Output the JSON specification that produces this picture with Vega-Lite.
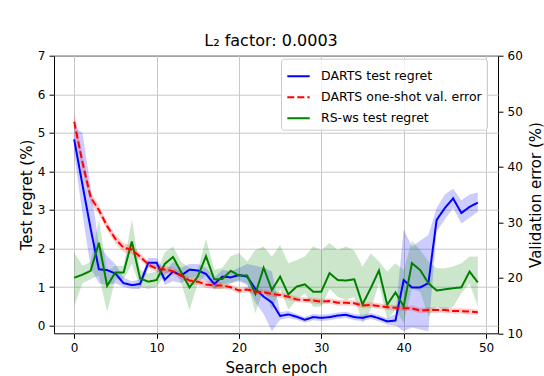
{
"$schema":"https://vega.github.io/schema/vega-lite/v6.json",
"width":444,"height":277.6,
"autosize":{"type":"none"},
"padding":{"left":54,"top":55.7,"right":46,"bottom":42.7},
"title":{"text":"L₂ factor: 0.0003","fontSize":16,"fontWeight":"normal","font":"DejaVu Sans","color":"black","baseline":"alphabetic","offset":9,"dy":21,"dx":-5},
"data":{"values":[
{"e":0,"s":"DARTS test regret","m":4.83,"lo":4.45,"hi":5.15},
{"e":1,"s":"DARTS test regret","m":3.66,"lo":2.9,"hi":5.0},
{"e":2,"s":"DARTS test regret","m":2.51,"lo":1.5,"hi":3.6},
{"e":3,"s":"DARTS test regret","m":1.46,"lo":1.1,"hi":2.1},
{"e":4,"s":"DARTS test regret","m":1.44,"lo":1.05,"hi":1.8},
{"e":5,"s":"DARTS test regret","m":1.35,"lo":1.1,"hi":1.6},
{"e":6,"s":"DARTS test regret","m":1.10,"lo":1.0,"hi":1.25},
{"e":7,"s":"DARTS test regret","m":1.05,"lo":0.95,"hi":1.15},
{"e":8,"s":"DARTS test regret","m":1.08,"lo":0.95,"hi":1.2},
{"e":9,"s":"DARTS test regret","m":1.63,"lo":1.5,"hi":1.75},
{"e":10,"s":"DARTS test regret","m":1.63,"lo":1.5,"hi":1.75},
{"e":11,"s":"DARTS test regret","m":1.19,"lo":1.05,"hi":1.4},
{"e":12,"s":"DARTS test regret","m":1.40,"lo":1.15,"hi":1.65},
{"e":13,"s":"DARTS test regret","m":1.30,"lo":1.1,"hi":1.5},
{"e":14,"s":"DARTS test regret","m":1.45,"lo":1.25,"hi":1.6},
{"e":15,"s":"DARTS test regret","m":1.43,"lo":1.25,"hi":1.6},
{"e":16,"s":"DARTS test regret","m":1.34,"lo":1.15,"hi":1.5},
{"e":17,"s":"DARTS test regret","m":1.08,"lo":0.95,"hi":1.25},
{"e":18,"s":"DARTS test regret","m":1.27,"lo":1.1,"hi":1.45},
{"e":19,"s":"DARTS test regret","m":1.25,"lo":1.1,"hi":1.4},
{"e":20,"s":"DARTS test regret","m":1.31,"lo":1.15,"hi":1.5},
{"e":21,"s":"DARTS test regret","m":1.27,"lo":1.05,"hi":1.6},
{"e":22,"s":"DARTS test regret","m":0.95,"lo":0.6,"hi":1.55},
{"e":23,"s":"DARTS test regret","m":0.75,"lo":0.3,"hi":1.5},
{"e":24,"s":"DARTS test regret","m":0.60,"lo":-0.15,"hi":1.4},
{"e":25,"s":"DARTS test regret","m":0.25,"lo":0.15,"hi":0.35},
{"e":26,"s":"DARTS test regret","m":0.29,"lo":0.2,"hi":0.38},
{"e":27,"s":"DARTS test regret","m":0.23,"lo":0.15,"hi":0.3},
{"e":28,"s":"DARTS test regret","m":0.15,"lo":0.08,"hi":0.22},
{"e":29,"s":"DARTS test regret","m":0.22,"lo":0.14,"hi":0.3},
{"e":30,"s":"DARTS test regret","m":0.20,"lo":0.12,"hi":0.28},
{"e":31,"s":"DARTS test regret","m":0.22,"lo":0.14,"hi":0.3},
{"e":32,"s":"DARTS test regret","m":0.26,"lo":0.18,"hi":0.34},
{"e":33,"s":"DARTS test regret","m":0.28,"lo":0.2,"hi":0.36},
{"e":34,"s":"DARTS test regret","m":0.22,"lo":0.14,"hi":0.3},
{"e":35,"s":"DARTS test regret","m":0.20,"lo":0.12,"hi":0.28},
{"e":36,"s":"DARTS test regret","m":0.25,"lo":0.17,"hi":0.33},
{"e":37,"s":"DARTS test regret","m":0.19,"lo":0.11,"hi":0.27},
{"e":38,"s":"DARTS test regret","m":0.11,"lo":0.03,"hi":0.19},
{"e":39,"s":"DARTS test regret","m":0.13,"lo":0.0,"hi":0.3},
{"e":40,"s":"DARTS test regret","m":1.18,"lo":-0.15,"hi":2.5},
{"e":41,"s":"DARTS test regret","m":0.99,"lo":-0.05,"hi":2.05},
{"e":42,"s":"DARTS test regret","m":0.99,"lo":-0.1,"hi":2.2},
{"e":43,"s":"DARTS test regret","m":1.10,"lo":-0.15,"hi":2.35},
{"e":44,"s":"DARTS test regret","m":2.74,"lo":2.45,"hi":3.05},
{"e":45,"s":"DARTS test regret","m":3.05,"lo":2.75,"hi":3.4},
{"e":46,"s":"DARTS test regret","m":3.30,"lo":3.05,"hi":3.55},
{"e":47,"s":"DARTS test regret","m":2.92,"lo":2.65,"hi":3.25},
{"e":48,"s":"DARTS test regret","m":3.08,"lo":2.8,"hi":3.4},
{"e":49,"s":"DARTS test regret","m":3.19,"lo":2.95,"hi":3.45},
{"e":0,"s":"RS-ws test regret","m":1.24,"lo":0.5,"hi":1.9},
{"e":1,"s":"RS-ws test regret","m":1.32,"lo":1.1,"hi":1.55},
{"e":2,"s":"RS-ws test regret","m":1.42,"lo":1.2,"hi":1.65},
{"e":3,"s":"RS-ws test regret","m":2.15,"lo":1.3,"hi":2.75},
{"e":4,"s":"RS-ws test regret","m":1.03,"lo":0.35,"hi":1.4},
{"e":5,"s":"RS-ws test regret","m":1.38,"lo":1.2,"hi":1.55},
{"e":6,"s":"RS-ws test regret","m":1.38,"lo":1.2,"hi":1.55},
{"e":7,"s":"RS-ws test regret","m":2.18,"lo":1.6,"hi":2.75},
{"e":8,"s":"RS-ws test regret","m":1.22,"lo":1.0,"hi":1.45},
{"e":9,"s":"RS-ws test regret","m":1.14,"lo":0.95,"hi":1.35},
{"e":10,"s":"RS-ws test regret","m":1.18,"lo":1.0,"hi":1.4},
{"e":11,"s":"RS-ws test regret","m":1.60,"lo":1.3,"hi":1.9},
{"e":12,"s":"RS-ws test regret","m":1.78,"lo":1.5,"hi":2.05},
{"e":13,"s":"RS-ws test regret","m":1.38,"lo":1.1,"hi":1.65},
{"e":14,"s":"RS-ws test regret","m":0.99,"lo":0.4,"hi":1.5},
{"e":15,"s":"RS-ws test regret","m":1.27,"lo":1.1,"hi":1.45},
{"e":16,"s":"RS-ws test regret","m":1.80,"lo":1.3,"hi":2.25},
{"e":17,"s":"RS-ws test regret","m":1.20,"lo":0.95,"hi":1.45},
{"e":18,"s":"RS-ws test regret","m":1.21,"lo":0.95,"hi":1.5},
{"e":19,"s":"RS-ws test regret","m":1.42,"lo":1.1,"hi":1.8},
{"e":20,"s":"RS-ws test regret","m":1.30,"lo":1.18,"hi":1.88},
{"e":21,"s":"RS-ws test regret","m":1.30,"lo":1.1,"hi":1.66},
{"e":22,"s":"RS-ws test regret","m":0.82,"lo":0.32,"hi":1.96},
{"e":23,"s":"RS-ws test regret","m":1.50,"lo":0.95,"hi":2.05},
{"e":24,"s":"RS-ws test regret","m":0.92,"lo":0.41,"hi":1.79},
{"e":25,"s":"RS-ws test regret","m":1.27,"lo":0.95,"hi":2.09},
{"e":26,"s":"RS-ws test regret","m":0.81,"lo":0.41,"hi":1.62},
{"e":27,"s":"RS-ws test regret","m":1.01,"lo":0.67,"hi":1.7},
{"e":28,"s":"RS-ws test regret","m":1.07,"lo":0.84,"hi":1.79},
{"e":29,"s":"RS-ws test regret","m":0.88,"lo":0.49,"hi":2.05},
{"e":30,"s":"RS-ws test regret","m":0.88,"lo":0.49,"hi":1.96},
{"e":31,"s":"RS-ws test regret","m":1.36,"lo":0.95,"hi":2.14},
{"e":32,"s":"RS-ws test regret","m":1.18,"lo":0.75,"hi":1.96},
{"e":33,"s":"RS-ws test regret","m":1.17,"lo":0.66,"hi":2.05},
{"e":34,"s":"RS-ws test regret","m":1.20,"lo":0.75,"hi":1.95},
{"e":35,"s":"RS-ws test regret","m":0.55,"lo":0.06,"hi":1.53},
{"e":36,"s":"RS-ws test regret","m":0.97,"lo":0.41,"hi":1.87},
{"e":37,"s":"RS-ws test regret","m":1.43,"lo":1.1,"hi":1.66},
{"e":38,"s":"RS-ws test regret","m":0.54,"lo":0.15,"hi":1.4},
{"e":39,"s":"RS-ws test regret","m":0.86,"lo":0.41,"hi":1.62},
{"e":40,"s":"RS-ws test regret","m":0.50,"lo":0.06,"hi":1.44},
{"e":41,"s":"RS-ws test regret","m":1.62,"lo":0.97,"hi":2.2},
{"e":42,"s":"RS-ws test regret","m":1.44,"lo":0.88,"hi":1.96},
{"e":43,"s":"RS-ws test regret","m":1.10,"lo":0.24,"hi":1.66},
{"e":44,"s":"RS-ws test regret","m":0.91,"lo":0.49,"hi":1.49},
{"e":45,"s":"RS-ws test regret","m":0.94,"lo":0.41,"hi":1.49},
{"e":46,"s":"RS-ws test regret","m":0.97,"lo":0.49,"hi":1.53},
{"e":47,"s":"RS-ws test regret","m":0.99,"lo":0.84,"hi":1.62},
{"e":48,"s":"RS-ws test regret","m":1.40,"lo":1.1,"hi":1.79},
{"e":49,"s":"RS-ws test regret","m":1.12,"lo":0.5,"hi":1.79},
{"e":0,"s":"DARTS one-shot val. error","m":48.1,"lo":46.3,"hi":49.9},
{"e":1,"s":"DARTS one-shot val. error","m":40.8,"lo":39.3,"hi":42.3},
{"e":2,"s":"DARTS one-shot val. error","m":34.5,"lo":33.5,"hi":35.5},
{"e":3,"s":"DARTS one-shot val. error","m":32.2,"lo":31.4,"hi":33.0},
{"e":4,"s":"DARTS one-shot val. error","m":29.3,"lo":28.5,"hi":30.1},
{"e":5,"s":"DARTS one-shot val. error","m":27.0,"lo":26.2,"hi":27.8},
{"e":6,"s":"DARTS one-shot val. error","m":25.4,"lo":24.6,"hi":26.2},
{"e":7,"s":"DARTS one-shot val. error","m":25.1,"lo":24.3,"hi":25.9},
{"e":8,"s":"DARTS one-shot val. error","m":23.8,"lo":23.2,"hi":24.4},
{"e":9,"s":"DARTS one-shot val. error","m":22.4,"lo":21.8,"hi":23.0},
{"e":10,"s":"DARTS one-shot val. error","m":21.6,"lo":21.0,"hi":22.2},
{"e":11,"s":"DARTS one-shot val. error","m":21.5,"lo":20.9,"hi":22.1},
{"e":12,"s":"DARTS one-shot val. error","m":21.2,"lo":20.6,"hi":21.8},
{"e":13,"s":"DARTS one-shot val. error","m":20.4,"lo":19.8,"hi":21.0},
{"e":14,"s":"DARTS one-shot val. error","m":19.5,"lo":18.9,"hi":20.1},
{"e":15,"s":"DARTS one-shot val. error","m":19.3,"lo":18.7,"hi":19.9},
{"e":16,"s":"DARTS one-shot val. error","m":18.8,"lo":18.2,"hi":19.4},
{"e":17,"s":"DARTS one-shot val. error","m":18.6,"lo":18.0,"hi":19.2},
{"e":18,"s":"DARTS one-shot val. error","m":18.6,"lo":18.0,"hi":19.2},
{"e":19,"s":"DARTS one-shot val. error","m":18.3,"lo":17.8,"hi":18.8},
{"e":20,"s":"DARTS one-shot val. error","m":17.7,"lo":17.2,"hi":18.2},
{"e":21,"s":"DARTS one-shot val. error","m":17.9,"lo":17.4,"hi":18.4},
{"e":22,"s":"DARTS one-shot val. error","m":17.5,"lo":17.0,"hi":18.0},
{"e":23,"s":"DARTS one-shot val. error","m":17.4,"lo":16.9,"hi":17.9},
{"e":24,"s":"DARTS one-shot val. error","m":17.1,"lo":16.6,"hi":17.6},
{"e":25,"s":"DARTS one-shot val. error","m":16.9,"lo":16.4,"hi":17.4},
{"e":26,"s":"DARTS one-shot val. error","m":16.6,"lo":16.1,"hi":17.1},
{"e":27,"s":"DARTS one-shot val. error","m":16.1,"lo":15.6,"hi":16.6},
{"e":28,"s":"DARTS one-shot val. error","m":16.0,"lo":15.5,"hi":16.5},
{"e":29,"s":"DARTS one-shot val. error","m":15.9,"lo":15.4,"hi":16.4},
{"e":30,"s":"DARTS one-shot val. error","m":15.7,"lo":15.2,"hi":16.2},
{"e":31,"s":"DARTS one-shot val. error","m":15.8,"lo":15.3,"hi":16.3},
{"e":32,"s":"DARTS one-shot val. error","m":15.5,"lo":15.0,"hi":16.0},
{"e":33,"s":"DARTS one-shot val. error","m":15.5,"lo":15.0,"hi":16.0},
{"e":34,"s":"DARTS one-shot val. error","m":15.4,"lo":14.9,"hi":15.9},
{"e":35,"s":"DARTS one-shot val. error","m":15.0,"lo":14.5,"hi":15.5},
{"e":36,"s":"DARTS one-shot val. error","m":15.1,"lo":14.6,"hi":15.6},
{"e":37,"s":"DARTS one-shot val. error","m":14.9,"lo":14.4,"hi":15.4},
{"e":38,"s":"DARTS one-shot val. error","m":14.7,"lo":14.2,"hi":15.2},
{"e":39,"s":"DARTS one-shot val. error","m":14.6,"lo":14.1,"hi":15.1},
{"e":40,"s":"DARTS one-shot val. error","m":14.5,"lo":14.0,"hi":15.0},
{"e":41,"s":"DARTS one-shot val. error","m":14.5,"lo":14.0,"hi":15.0},
{"e":42,"s":"DARTS one-shot val. error","m":14.1,"lo":13.6,"hi":14.6},
{"e":43,"s":"DARTS one-shot val. error","m":14.2,"lo":13.7,"hi":14.7},
{"e":44,"s":"DARTS one-shot val. error","m":14.2,"lo":13.7,"hi":14.7},
{"e":45,"s":"DARTS one-shot val. error","m":14.2,"lo":13.7,"hi":14.7},
{"e":46,"s":"DARTS one-shot val. error","m":14.0,"lo":13.5,"hi":14.5},
{"e":47,"s":"DARTS one-shot val. error","m":14.0,"lo":13.5,"hi":14.5},
{"e":48,"s":"DARTS one-shot val. error","m":13.9,"lo":13.4,"hi":14.4},
{"e":49,"s":"DARTS one-shot val. error","m":13.8,"lo":13.3,"hi":14.3}
]},
"encoding":{
 "x":{"field":"e","type":"quantitative","scale":{"domain":[-2.45,51.45],"nice":false,"zero":false},"axis":{"values":[0,10,20,30,40,50],"title":"Search epoch","grid":true}}
},
"layer":[
 {"layer":[
   {"transform":[{"filter":"datum.s === 'DARTS test regret'"}],
    "mark":{"type":"area","color":"#0000ff","fillOpacity":0.2},
    "encoding":{
     "y":{"field":"lo","type":"quantitative","scale":{"domain":[-0.2,7],"nice":false,"zero":false},"axis":{"values":[0,1,2,3,4,5,6,7],"title":"Test regret (%)","orient":"left","grid":true,"titlePadding":3}},
     "y2":{"field":"hi"}
    }},
   {"transform":[{"filter":"datum.s === 'RS-ws test regret'"}],
    "mark":{"type":"area","color":"#008000","fillOpacity":0.2},
    "encoding":{
     "y":{"field":"lo","type":"quantitative","axis":{"values":[0,1,2,3,4,5,6,7],"title":"Test regret (%)","orient":"left","grid":true,"titlePadding":3}},
     "y2":{"field":"hi"}
    }},
   {"transform":[{"filter":"datum.s !== 'DARTS one-shot val. error'"}],
    "mark":{"type":"line","strokeWidth":2},
    "encoding":{
     "y":{"field":"m","type":"quantitative","axis":{"values":[0,1,2,3,4,5,6,7],"title":"Test regret (%)","orient":"left","grid":true,"titlePadding":3}},
     "stroke":{"field":"s","type":"nominal","scale":{"domain":["DARTS test regret","DARTS one-shot val. error","RS-ws test regret"],"range":["#0000ff","#ff0000","#008000"]},"legend":{"title":null}},
     "strokeDash":{"field":"s","type":"nominal","scale":{"domain":["DARTS test regret","DARTS one-shot val. error","RS-ws test regret"],"range":[[1,0],[7,3],[1,0]]},"legend":{"title":null}}
    }}
  ]},
 {"layer":[
   {"transform":[{"filter":"datum.s === 'DARTS one-shot val. error'"}],
    "mark":{"type":"area","color":"#ff0000","fillOpacity":0.2},
    "encoding":{
     "y":{"field":"lo","type":"quantitative","scale":{"domain":[10,60],"nice":false,"zero":false},"axis":{"values":[10,20,30,40,50,60],"title":"Validation error (%)","orient":"right","grid":false,"titleAngle":270,"titleBaseline":"top","titlePadding":6}},
     "y2":{"field":"hi"}
    }},
   {"transform":[{"filter":"datum.s === 'DARTS one-shot val. error'"}],
    "mark":{"type":"line","strokeWidth":2},
    "encoding":{
     "y":{"field":"m","type":"quantitative","axis":{"values":[10,20,30,40,50,60],"title":"Validation error (%)","orient":"right","grid":false,"titleAngle":270,"titleBaseline":"top","titlePadding":6}},
     "stroke":{"field":"s","type":"nominal","scale":{"domain":["DARTS test regret","DARTS one-shot val. error","RS-ws test regret"],"range":["#0000ff","#ff0000","#008000"]},"legend":{"title":null}},
     "strokeDash":{"field":"s","type":"nominal","scale":{"domain":["DARTS test regret","DARTS one-shot val. error","RS-ws test regret"],"range":[[1,0],[7,3],[1,0]]},"legend":{"title":null}}
    }}
  ]}
],
"resolve":{"scale":{"y":"independent"}},
"config":{
 "font":"DejaVu Sans",
 "view":{"stroke":"black","strokeWidth":1},
 "axis":{"domain":false,"tickColor":"black","tickSize":5,"tickWidth":1,"labelColor":"black","labelFontSize":12,"labelPadding":4,"titleFontSize":15,"titleFontWeight":"normal","titleColor":"black","gridColor":"#c8c8c8","gridWidth":1},
 "axisX":{"titlePadding":7,"labelFlush":false},
 "axisY":{"labelFlush":false},
 "legend":{"orient":"none","legendX":227,"legendY":3,"fillColor":"rgba(255,255,255,0.8)","strokeColor":"#cccccc","cornerRadius":3,"padding":5,"labelFontSize":12.5,"labelColor":"black","labelLimit":400,"symbolType":"stroke","symbolSize":500,"symbolStrokeWidth":2,"labelOffset":10,"rowPadding":2}
}
}
